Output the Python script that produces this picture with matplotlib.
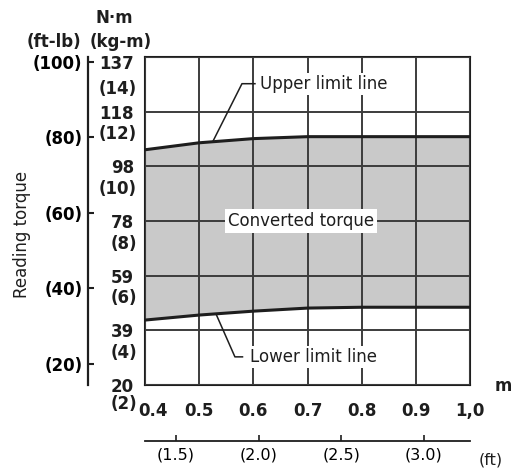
import numpy as np
import matplotlib
matplotlib.use("Agg")
from matplotlib import pyplot as plt
from matplotlib.transforms import ScaledTranslation, blended_transform_factory

# clearance (m) vs. reading torque limits (N·m)
clearance_m = [0.4, 0.5, 0.6, 0.7, 0.8, 0.9, 1.0]
upper_nm = [104.0, 106.5, 108.0, 108.7, 108.7, 108.7, 108.7]
lower_nm = [42.9, 44.7, 46.1, 47.2, 47.5, 47.5, 47.5]

# left scales
kgm_ticks = [2, 4, 6, 8, 10, 12, 14]
nm_labels = ["20", "39", "59", "78", "98", "118", "137"]
ftlb_ticks = [20, 40, 60, 80, 100]
# bottom scale
ft_ticks = [1.5, 2.0, 2.5, 3.0]
x_labels = ["0.4", "0.5", "0.6", "0.7", "0.8", "0.9", "1,0"]

KGM = 9.80665
FTLB = 1.35582
FT = 0.3048

plt.rcParams['font.family'] = ['DejaVu Sans']
ink = '#1e1e1e'
tfs = 12

fig = plt.figure(figsize=(5.14, 4.70), dpi=100)
ax = fig.add_axes([0.2821, 0.1809, 0.6323, 0.6979])

nm_ticks = [k * KGM for k in kgm_ticks]
ax.set_xlim(0.4, 1.0)
ax.set_ylim(nm_ticks[0], nm_ticks[-1])

# band between the limit lines
ax.fill_between(clearance_m, lower_nm, upper_nm, color='#c9c9c9', lw=0, zorder=1)
ax.plot(clearance_m, upper_nm, color=ink, lw=2.2, zorder=3)
ax.plot(clearance_m, lower_nm, color=ink, lw=2.2, zorder=3)

# grid
ax.set_axisbelow(False)
ax.set_xticks(clearance_m, x_labels)
ax.set_yticks(nm_ticks, nm_labels)
ax.grid(True, color='#3c3c3c', lw=1.4)
for s in ax.spines.values():
    s.set_color(ink)
    s.set_linewidth(1.5)
ax.tick_params(axis='both', length=0, labelsize=tfs, labelcolor=ink)
ax.tick_params(axis='y', pad=8)
ax.tick_params(axis='x', pad=12)
for lbl in ax.get_xticklabels() + ax.get_yticklabels():
    lbl.set_fontweight('bold')
# keep 0.4 clear of the (2) label
first = ax.get_xticklabels()[0]
first.set_transform(first.get_transform() + ScaledTranslation(0.08, 0, fig.dpi_scale_trans))
# top label sits just under the frame
top = ax.get_yticklabels()[-1]
top.set_transform(top.get_transform() + ScaledTranslation(0, -0.05, fig.dpi_scale_trans))

# kg-m labels stacked under the N·m ones
ytr = blended_transform_factory(ax.transAxes, ax.transData)
for k, v in zip(kgm_ticks, nm_ticks):
    off = {2: -7.0, 14: -11.5}.get(k, -8.2)
    ax.text(-0.025, v + off, f"({k})", transform=ytr, ha='right', va='center',
            fontsize=tfs, fontweight='bold', color=ink, clip_on=False)

# ft-lb scale
sec = ax.secondary_yaxis(-0.1754, functions=(lambda v: v / FTLB, lambda v: v * FTLB))
sec.set_yticks(ftlb_ticks, [f"({t})" for t in ftlb_ticks])
sec.tick_params(direction='in', length=4, width=1.5, color=ink, labelsize=tfs, pad=4)
sec.spines['left'].set_linewidth(1.6)
sec.spines['left'].set_color(ink)
for lbl in sec.get_yticklabels():
    lbl.set_fontweight('bold')

# ft scale under the m axis
secx = ax.secondary_xaxis(-0.1707, functions=(lambda v: v / FT, lambda v: v * FT))
secx.set_xticks(ft_ticks, [f"({t:.1f})" for t in ft_ticks])
secx.tick_params(direction='in', length=4, width=1.2, color=ink, labelsize=11.5, pad=5)
secx.spines['bottom'].set_linewidth(1.3)
secx.spines['bottom'].set_color(ink)

# units
fig.text(114 / 514, 1 - 18 / 470, "N·m", ha='center', va='center', fontsize=12, fontweight='bold', color=ink)
fig.text(54 / 514, 1 - 42 / 470, "(ft-lb)", ha='center', va='center', fontsize=12, fontweight='bold', color=ink)
fig.text(121 / 514, 1 - 42 / 470, "(kg-m)", ha='center', va='center', fontsize=12, fontweight='bold', color=ink)
fig.text(512 / 514, 1 - 386 / 470, "m", ha='right', va='center', fontsize=12, fontweight='bold', color=ink)
fig.text(491 / 514, 1 - 460 / 470, "(ft)", ha='center', va='center', fontsize=11.5, color=ink)
fig.text(22 / 514, 1 - 234 / 470, "Reading torque", rotation=90, ha='center', va='center',
         fontsize=12, color=ink)

# callouts
fs = 12
ux = 0.525
ax.plot([ux, 0.579, 0.603], [np.interp(ux, clearance_m, upper_nm), 127.7, 127.7],
        color=ink, lw=1.1, zorder=4)
ax.text(0.612, 127.7, "Upper limit line", ha='left', va='center', fontsize=fs, color=ink, zorder=5,
        bbox=dict(fc='white', ec='none', pad=1.5))

lx = 0.531
ax.plot([lx, 0.566, 0.580], [np.interp(lx, clearance_m, lower_nm), 29.7, 29.7],
        color=ink, lw=1.1, zorder=4)
ax.text(0.593, 29.7, "Lower limit line", ha='left', va='center', fontsize=fs, color=ink, zorder=5,
        bbox=dict(fc='white', ec='none', pad=1.5))

ax.text(0.553, nm_ticks[3], "Converted torque", ha='left', va='center', fontsize=fs, color=ink,
        zorder=5, bbox=dict(fc='white', ec='none', pad=2))

fig.savefig("out.png", dpi=100)
